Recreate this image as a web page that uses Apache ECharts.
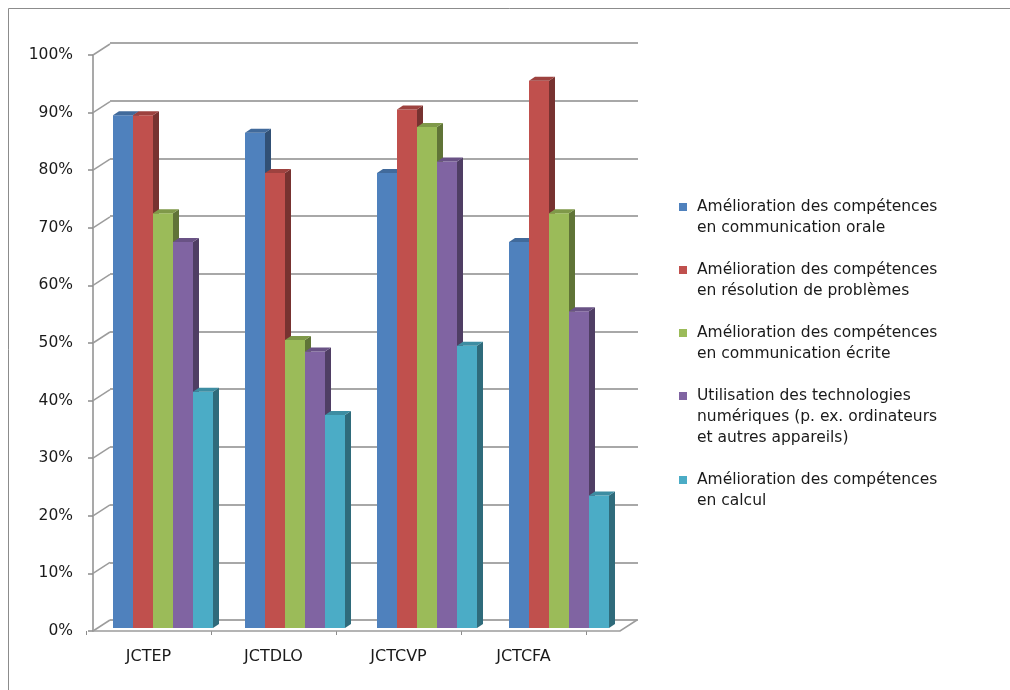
<!DOCTYPE html>
<html>
<head>
<meta charset="utf-8">
<script src="https://cdn.jsdelivr.net/npm/echarts@6/dist/echarts.min.js"></script>
<style>
  html, body { margin: 0; padding: 0; background: #fff; }
  #main { width: 1010px; height: 690px; }
</style>
</head>
<body>
<div id="main"></div>
<script>
// data
var categories = ['JCTEP', 'JCTDLO', 'JCTCVP', 'JCTCFA'];
var seriesNames = [
  'Amélioration des compétences\nen communication orale',
  'Amélioration des compétences\nen résolution de problèmes',
  'Amélioration des compétences\nen communication écrite',
  'Utilisation des technologies\nnumériques (p. ex. ordinateurs\net autres appareils)',
  'Amélioration des compétences\nen calcul'
];
var oraleValues = [89, 86, 79, 67];
var problemesValues = [89, 79, 90, 95];
var ecriteValues = [72, 50, 87, 72];
var numeriqueValues = [67, 48, 81, 55];
var calculValues = [41, 37, 49, 23];
var yTicks = [0, 10, 20, 30, 40, 50, 60, 70, 80, 90, 100];

var allValues = [oraleValues, problemesValues, ecriteValues, numeriqueValues, calculValues];
var colors = ['#4F81BD', '#C0504D', '#9BBB59', '#8064A2', '#4BACC6'];

var FONT = 'DejaVu Sans';
var DX = 17, DY = -11;   // wall depth
var BDX = 6, BDY = -4;   // bar depth

function shade (hex, k) {
  var n = parseInt(hex.slice(1), 16)
  var r = Math.round(((n >> 16) & 255) * k)
  var g = Math.round(((n >> 8) & 255) * k)
  var b = Math.round((n & 255) * k)
  return 'rgb(' + r + ',' + g + ',' + b + ')'
}

function barRenderer (s) {
  return function (params, api) {
    var cat = api.value(0)
    var v = api.value(1)
    var band = api.size([1, 0])[0]
    var w = band * 20 / 132
    var base = api.coord([cat, 0])
    var x0 = base[0] + (s - 2.5) * w
    var x1 = x0 + w
    var yb = base[1]
    var yt = api.coord([cat, v])[1]
    return {
      type: 'group',
      children: [
        { type: 'rect', shape: { x: x0, y: yt, width: w, height: yb - yt }, style: { fill: colors[s] } },
        { type: 'polygon', shape: { points: [[x1, yt], [x1 + BDX, yt + BDY], [x1 + BDX, yb + BDY], [x1, yb]] }, style: { fill: shade(colors[s], 0.62) } },
        { type: 'polygon', shape: { points: [[x0, yt], [x1, yt], [x1 + BDX, yt + BDY], [x0 + BDX, yt + BDY]] }, style: { fill: shade(colors[s], 0.82) } }
      ]
    }
  }
}

var barSeries = allValues.map(function (vals, s) {
  return {
    name: seriesNames[s],
    type: 'custom',
    xAxisIndex: 2,
    yAxisIndex: 2,
    renderItem: barRenderer(s),
    data: vals.map(function (v, i) { return [i, v] }),
    z: 5
  }
})

// legend drawn by hand so the square sits on the first line
var legendItems = []
var ly = 207
seriesNames.forEach(function (name, i) {
  legendItems.push({ type: 'rect', shape: { x: 679, y: ly - 4, width: 8, height: 8 }, style: { fill: colors[i] } })
  legendItems.push({ type: 'text', x: 697, y: ly - 10.5, style: { text: name, font: '15.5px "' + FONT + '"', lineHeight: 21, fill: '#1a1a1a', verticalAlign: 'top' } })
  ly += (name.split('\n').length + 1) * 21
})
legendItems.push({ type: 'rect', shape: { x: 8.5, y: 8.5, width: 1100, height: 800 }, style: { fill: 'none', stroke: '#8c8c8c', lineWidth: 1 }, z: 100 })

var option = {
  animation: false,
  backgroundColor: '#fff',
  grid: [
    { left: 110, right: 372, top: 43, bottom: 70 },   // back wall
    { left: 93, right: 390, top: 55, bottom: 59 },    // front plane
    { left: 97, right: 385, top: 52, bottom: 62 },    // bars
    { left: 86, right: 424, top: 55, bottom: 59 }     // category labels
  ],
  xAxis: [
    { gridIndex: 0, type: 'category', data: categories, show: false },
    { gridIndex: 1, type: 'value', min: 0, max: 1, show: false },
    { gridIndex: 2, type: 'category', data: categories, show: false },
    {
      gridIndex: 3,
      type: 'category',
      data: categories,
      axisLine: { show: false },
      axisTick: { show: true, length: 4, lineStyle: { color: '#8c8c8c' } },
      axisLabel: { margin: 18, fontFamily: FONT, fontSize: 16, color: '#1a1a1a' }
    }
  ],
  yAxis: [
    {
      gridIndex: 0, type: 'value', min: 0, max: 100, interval: 10,
      axisLine: { show: false }, axisTick: { show: false }, axisLabel: { show: false },
      splitLine: { show: true, lineStyle: { color: '#a8a8a8', width: 2 } }
    },
    {
      gridIndex: 1, type: 'value', min: 0, max: 100, interval: 10,
      axisLine: { show: true, lineStyle: { color: '#8c8c8c', width: 1.5 } },
      axisTick: { show: true, length: 5, lineStyle: { color: '#8c8c8c', width: 1.5 } },
      axisLabel: { margin: 20, formatter: '{value}%', fontFamily: FONT, fontSize: 15.5, color: '#1a1a1a' },
      splitLine: { show: false }
    },
    { gridIndex: 2, type: 'value', min: 0, max: 100, show: false, splitLine: { show: false } },
    { gridIndex: 3, type: 'value', min: 0, max: 100, show: false, splitLine: { show: false } }
  ],
  graphic: legendItems,
  series: [
    {
      type: 'custom',
      xAxisIndex: 1,
      yAxisIndex: 1,
      z: 1,
      silent: true,
      renderItem: function (params, api) {
        var p = api.coord([0, api.value(1)])
        return { type: 'line', shape: { x1: p[0], y1: p[1], x2: p[0] + DX, y2: p[1] + DY }, style: { stroke: '#9c9c9c', lineWidth: 1.5 } }
      },
      data: yTicks.map(function (v) { return [0, v] })
    },
    {
      type: 'custom',
      xAxisIndex: 1,
      yAxisIndex: 1,
      z: 1,
      silent: true,
      renderItem: function (params, api) {
        var a = api.coord([0, 0])
        var b = api.coord([1, 0])
        return {
          type: 'polyline',
          shape: { points: [a, b, [b[0] + DX, b[1] + DY]] },
          style: { stroke: '#9c9c9c', lineWidth: 1.5, fill: null }
        }
      },
      data: [[0, 0]]
    }
  ].concat(barSeries)
}

var chart = echarts.init(document.getElementById('main'))
chart.setOption(option)
</script>
</body>
</html>
